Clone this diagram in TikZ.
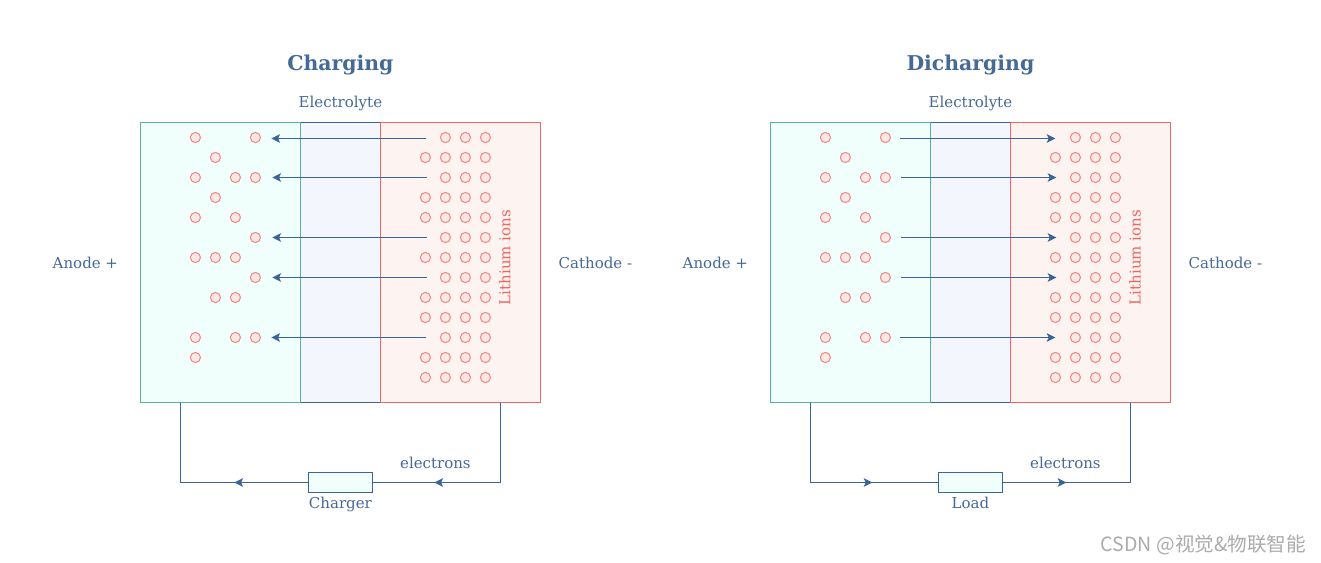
\documentclass[tikz,border=0pt]{standalone}
\usepackage{fontspec}
\setmainfont{DejaVu Serif}
\newfontfamily\cjkmark{Noto Sans CJK SC}
\usetikzlibrary{arrows.meta}
\definecolor{inkblue}{HTML}{3A6496}
\definecolor{txtblue}{HTML}{466A96}
\definecolor{anofill}{HTML}{F0FFFB}
\definecolor{anoline}{HTML}{5AB09A}
\definecolor{elefill}{HTML}{F3F7FD}
\definecolor{catfill}{HTML}{FDF4F2}
\definecolor{catline}{HTML}{F0655F}
\definecolor{ionfill}{HTML}{FFE8E6}
\definecolor{ionline}{HTML}{F08682}
\definecolor{markgray}{HTML}{ABABAB}
\tikzset{
  x=0.75pt,y=-0.75pt,
  zone/.style={draw,line width=0.75pt,minimum width=#1*0.75pt,minimum height=210pt,inner sep=0pt,outer sep=0pt},
  ion/.style={circle,draw=ionline,fill=ionfill,line width=0.75pt,minimum size=7.6pt,inner sep=0pt},
  label/.style={text=txtblue,font=\fontsize{11.25}{13}\selectfont,inner sep=0pt,anchor=base},
  headline/.style={text=txtblue,font=\fontsize{15.3}{18}\selectfont\bfseries,inner sep=0pt,anchor=base},
  device/.style={draw=inkblue,fill=anofill,line width=0.75pt,minimum width=48pt,minimum height=15pt,inner sep=0pt,outer sep=0pt},
  wire/.style={draw=inkblue,line width=0.75pt},
  flow/.style={draw=inkblue,line width=0.75pt,-{Stealth[length=6.5pt,width=6.5pt,inset=1.5pt]}},
}
\newcommand{\cellpanel}[3]{%
  % #1 prefix, #2 title, #3 device label
  \node[zone=160,draw=anoline,fill=anofill] (#1ano) at (220,262) {};
  \node[zone=160,draw=catline,fill=catfill] (#1cat) at (460,262) {};
  \node[zone=80,draw=inkblue,fill=elefill] (#1ele) at (340,262) {};
  \draw[anoline,line width=0.75pt] (#1ele.north west) -- (#1ele.south west);
  \draw[catline,line width=0.75pt] (#1ele.north east) -- (#1ele.south east);
  \node[headline] (#1title) at (340,70) {#2};
  \node[label] (#1elabel) at (340,107.5) {Electrolyte};
  \node[label] (#1alabel) at (85,267.5) {Anode +};
  \node[label] (#1clabel) at (595,267.5) {Cathode -};
  \node[label,text=catline,rotate=90,anchor=center] (#1ions) at (504.5,257) {Lithium ions};
  \node[label] (#1elec) at (435,467.5) {electrons};
  \node[device] (#1dev) at (340,482) {};
  \node[label] (#1devlabel) at (340,507.5) {#3};
  \foreach \cx/\cy in {195/137,255/137,215/157,195/177,235/177,255/177,215/197,195/217,235/217,255/237,195/257,215/257,235/257,255/277,215/297,235/297,195/337,235/337,255/337,195/357}
    \node[ion] (#1a\cx-\cy) at (\cx,\cy) {};
  \foreach \cy in {137,177,237,277,337}
    \foreach \cx in {445,465,485}
      \node[ion] (#1c\cx-\cy) at (\cx,\cy) {};
  \foreach \cy in {157,197,217,257,297,317,357,377}
    \foreach \cx in {425,445,465,485}
      \node[ion] (#1c\cx-\cy) at (\cx,\cy) {};
  \coordinate (#1wl) at (180,402);
  \coordinate (#1wr) at (500,402);
  \coordinate (#1bl) at (180,482);
  \coordinate (#1br) at (500,482);
  \draw[wire] (#1wl) -- (#1bl) -- (#1dev.west);
  \draw[wire] (#1wr) -- (#1br) -- (#1dev.east);
}
\begin{document}
\begin{tikzpicture}
\useasboundingbox[fill=white] (-0.4,-0.5) rectangle (1320.6,562.5);
\begin{scope}
  \cellpanel{L}{Charging}{Charger}
  \foreach \yy/\xa/\xb in {138/426/271,177/427/272,237/427/272,277/427/272,337/426/271}{
    \coordinate (Ls\yy) at (\xa,\yy);
    \coordinate (Le\yy) at (\xb,\yy);
    \draw[flow] (Ls\yy) -- (Le\yy);
  }
  \coordinate (Lt1) at (234,482);
  \coordinate (Lt2) at (434,482);
  \draw[flow] (Ldev.west) -- (Lt1);
  \draw[flow] (Lbr) -- (Lt2);
\end{scope}
\begin{scope}[shift={(630,0)}]
  \cellpanel{R}{Dicharging}{Load}
  \foreach \yy/\xa/\xb in {138/270/425,177/271/426,237/271/426,277/271/426,337/270/425}{
    \coordinate (Rs\yy) at (\xa,\yy);
    \coordinate (Re\yy) at (\xb,\yy);
    \draw[flow] (Rs\yy) -- (Re\yy);
  }
  \coordinate (Rt1) at (242,482);
  \coordinate (Rt2) at (436,482);
  \draw[flow] (Rbl) -- (Rt1);
  \draw[flow] (Rdev.east) -- (Rt2);
\end{scope}
\node[text=markgray,font=\cjkmark\fontsize{14.7}{18}\selectfont,inner sep=0pt] (mark) at (1203,544.5) {CSDN @视觉\&物联智能};
\end{tikzpicture}
\end{document}
